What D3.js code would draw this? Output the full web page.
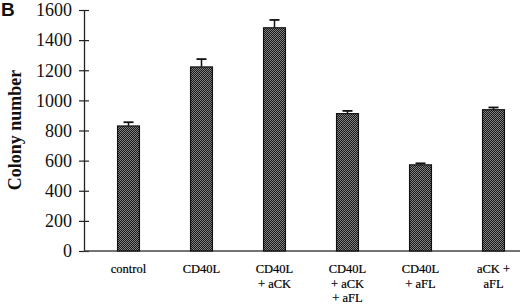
<!DOCTYPE html>
<html>
<head>
<meta charset="utf-8">
<script src="https://cdn.jsdelivr.net/npm/d3@7"></script>
<style>
body { margin: 0; background: #fff; }
</style>
</head>
<body>
<script>
var width = 520,
    height = 307,
    axisX = 84,
    yTop = 10,
    yBottom = 251
;

var categories = [
    ["control"],
    ["CD40L"],
    ["CD40L", "+ aCK"],
    ["CD40L", "+ aCK", "+ aFL"],
    ["CD40L", "+ aFL"],
    ["aCK +", "aFL"]
];
var values = [830, 1222, 1482, 912, 572, 938];
var errors = [25, 52, 52, 18, 10, 15];
var yTicks = [0, 200, 400, 600, 800, 1000, 1200, 1400, 1600];

var svg = d3.select("body").append("svg")
    .attr("width", width)
    .attr("height", height)
;

var defs = svg.append("defs");
var pat = defs.append("pattern")
    .attr("id", "dots")
    .attr("width", 2)
    .attr("height", 2)
    .attr("patternUnits", "userSpaceOnUse");
pat.append("rect").attr("width", 2).attr("height", 2).attr("fill", "#1a1a1a");
pat.append("rect").attr("width", 1).attr("height", 1).attr("fill", "#808080");
pat.append("rect").attr("x", 1).attr("y", 1).attr("width", 1).attr("height", 1).attr("fill", "#808080");

var x = d3.scaleBand()
    .domain(d3.range(categories.length))
    .range([92, 530])
    .paddingInner(0.7)
    .paddingOuter(0.35)
;

var y = d3.scaleLinear()
    .domain([0, 1600])
    .range([yBottom, yTop])
;

// y axis
var yAxis = d3.axisLeft(y)
    .tickValues(yTicks)
    .tickFormat(d3.format("d"))
    .tickSize(0)
    .tickPadding(12)
;
var gy = svg.append("g")
    .attr("transform", `translate(${axisX},0)`)
    .call(yAxis);
gy.select(".domain").attr("stroke", "#222").attr("stroke-width", 1.3);
gy.selectAll(".tick text")
    .attr("font-family", "Liberation Serif")
    .attr("font-size", 18)
    .attr("fill", "#111");
gy.selectAll(".tick").append("line")
    .attr("x1", -5).attr("x2", 5)
    .attr("stroke", "#222").attr("stroke-width", 1.2);

// x axis line
svg.append("line")
    .attr("x1", axisX).attr("x2", width)
    .attr("y1", y(0)).attr("y2", y(0))
    .attr("stroke", "#444").attr("stroke-width", 1.3);

// bars
svg.selectAll(".bar")
    .data(values)
    .enter().append("rect")
    .attr("class", "bar")
    .attr("x", (d, i) => x(i))
    .attr("y", d => y(d))
    .attr("width", x.bandwidth())
    .attr("height", d => y(0) - y(d))
    .attr("fill", "url(#dots)")
    .attr("stroke", "#111")
    .attr("stroke-width", 1.2)
;

// error bars
values.forEach(function(v, i) {
    var cx = x(i) + x.bandwidth() / 2;
    svg.append("line")
        .attr("x1", cx).attr("x2", cx)
        .attr("y1", y(v)).attr("y2", y(v + errors[i]))
        .attr("stroke", "#111").attr("stroke-width", 1.5);
    svg.append("line")
        .attr("x1", cx - 5).attr("x2", cx + 5)
        .attr("y1", y(v + errors[i])).attr("y2", y(v + errors[i]))
        .attr("stroke", "#111").attr("stroke-width", 1.8);
});

// category labels
categories.forEach(function(lines, i) {
    var cx = x(i) + x.bandwidth() / 2;
    var t = svg.append("text")
        .attr("text-anchor", "middle")
        .attr("font-family", "Liberation Serif")
        .attr("font-size", 12.5)
        .attr("fill", "#000")
        .attr("stroke", "#000")
        .attr("stroke-width", 0.2);
    lines.forEach(function(s, j) {
        t.append("tspan")
            .attr("x", cx)
            .attr("y", 273 + j * 14.5)
            .text(s);
    });
});

// y title
svg.append("text")
    .attr("transform", "translate(21,130) rotate(-90)")
    .attr("text-anchor", "middle")
    .attr("font-family", "Liberation Serif")
    .attr("font-weight", "bold")
    .attr("font-size", 18)
    .attr("fill", "#111")
    .text("Colony number");

// panel letter
svg.append("text")
    .attr("x", 1).attr("y", 16)
    .attr("font-family", "Liberation Sans")
    .attr("font-weight", "bold")
    .attr("font-size", 19)
    .attr("fill", "#111")
    .text("B");
</script>
</body>
</html>
